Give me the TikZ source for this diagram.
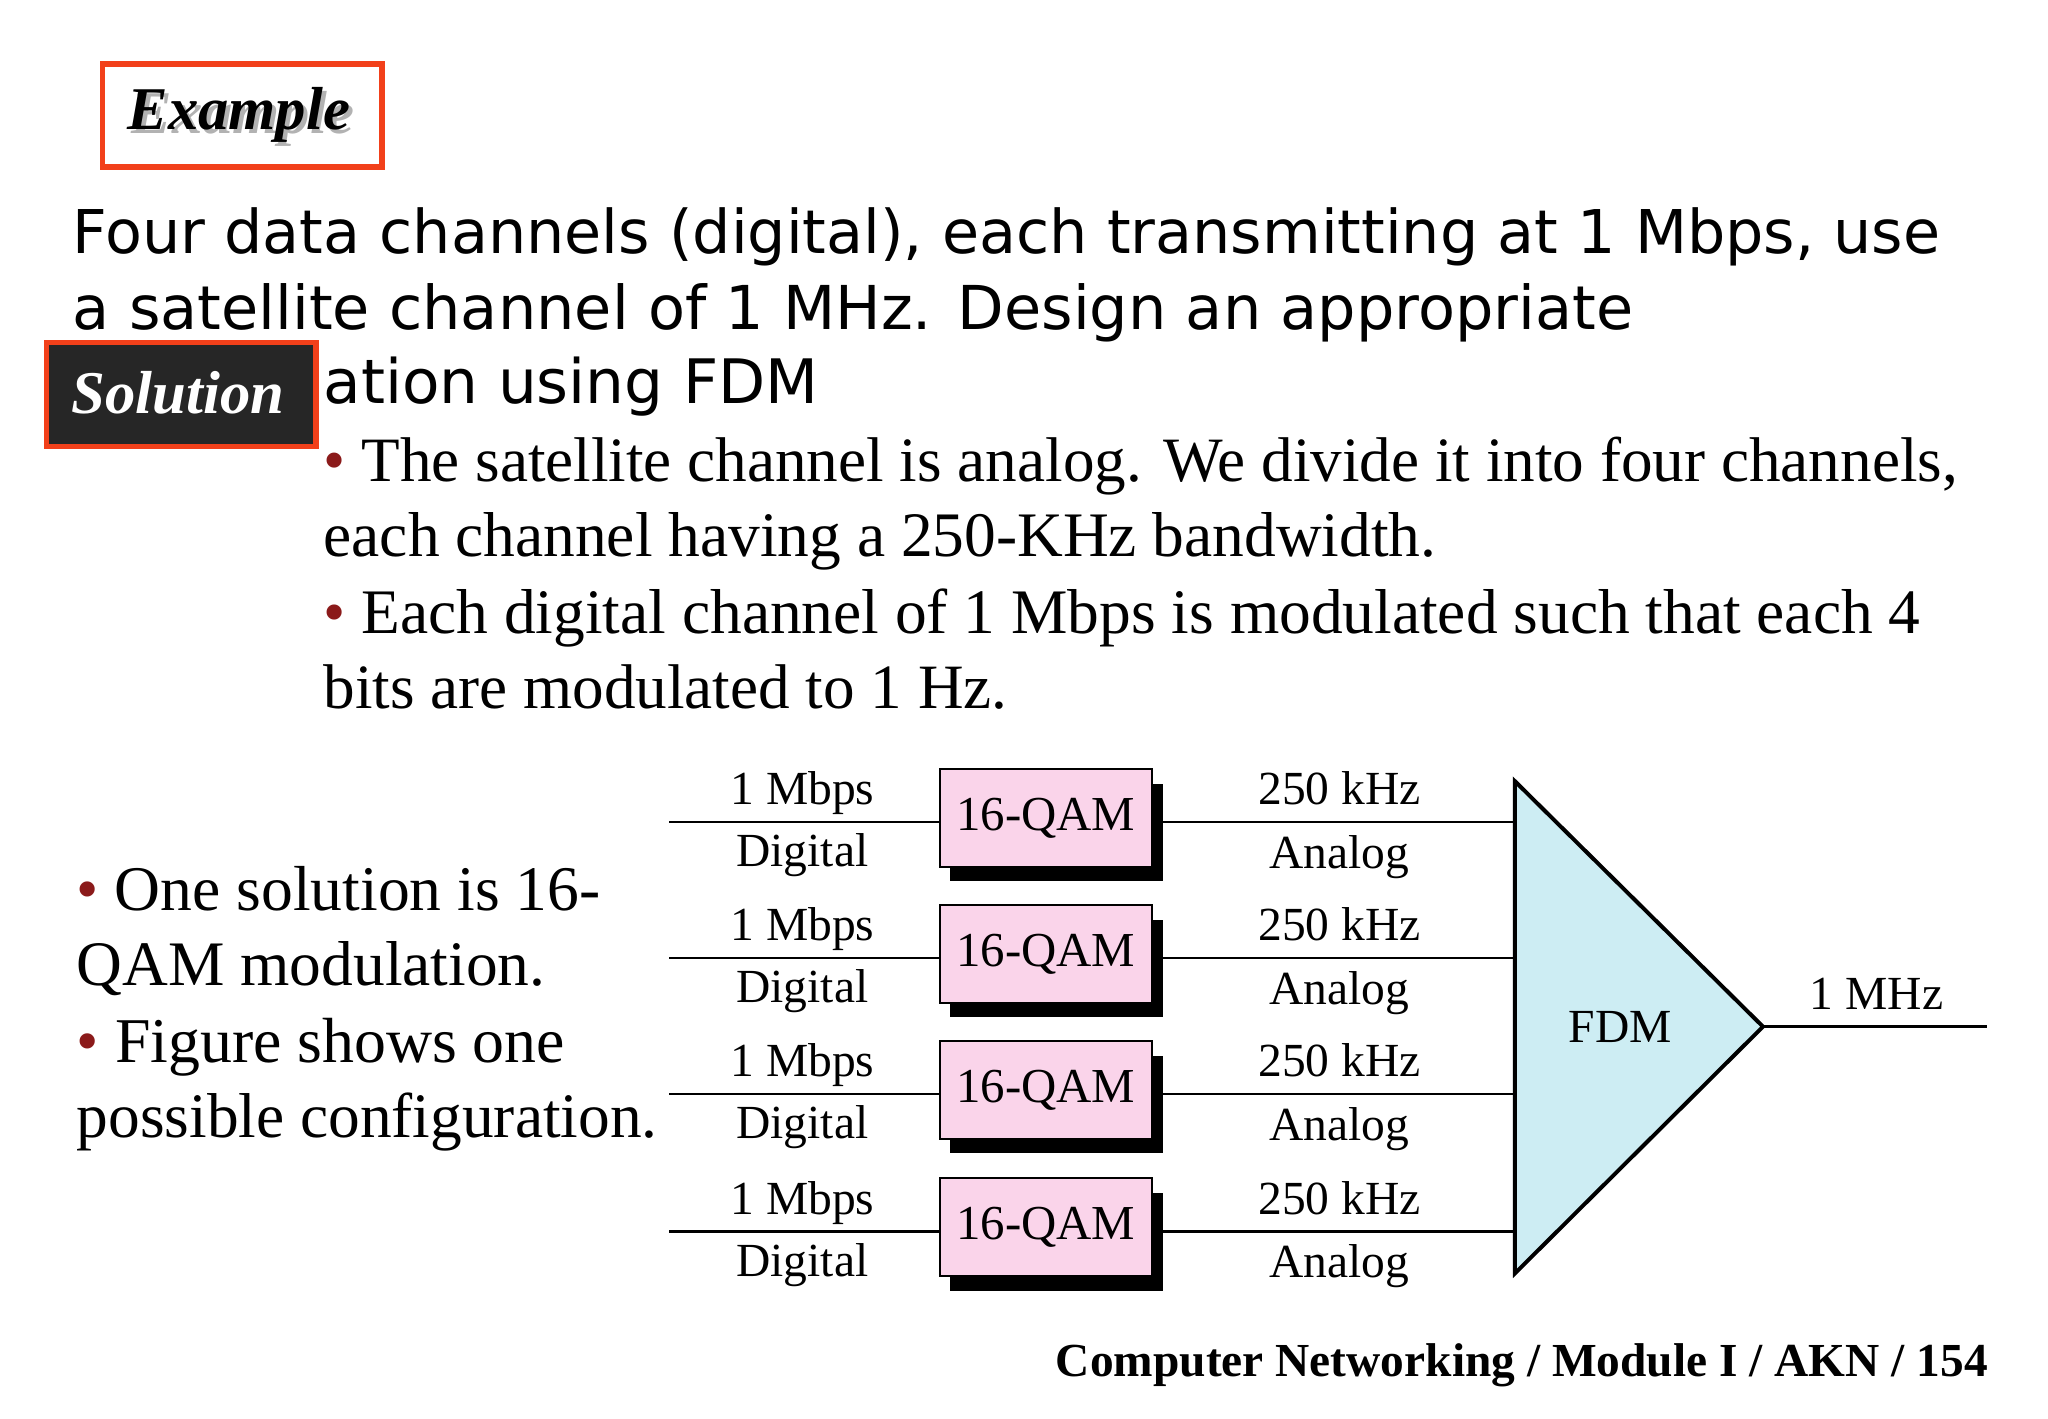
\documentclass[tikz,border=0pt]{standalone}
\usepackage{fontspec}
\usepackage{graphicx}
\setmainfont{Liberation Serif}
\newfontfamily\topsans{DejaVu Sans}
\definecolor{exred}{HTML}{F2401A}
\definecolor{bulred}{HTML}{8B1A1A}
\definecolor{qampink}{HTML}{FAD4EA}
\definecolor{fdmblue}{HTML}{CDEDF3}
\newcommand{\fitw}[2]{\resizebox{#1pt}{!}{#2}}
\newcommand{\bul}{{\color{bulred}\textbullet}\ }
\begin{document}
\begin{tikzpicture}[x=1pt,y=-1pt,
  lbl/.style={font=\fontsize{36}{40}\selectfont,inner sep=0pt,anchor=base},
  qam/.style={draw=black,line width=1.5pt,fill=qampink,minimum width=161pt,minimum height=74pt,font=\fontsize{37}{40}\selectfont,inner sep=0pt},
  wire/.style={line width=2pt},
  txt/.style={anchor=base west,inner sep=0pt}]
\useasboundingbox[fill=white] (0,0) rectangle (1552,1075);
% Example / Solution
\node[draw=exred,line width=4pt,minimum width=212pt,minimum height=78pt,inner sep=0pt] (ex) at (183.5,87.5) {};
\node[font=\fontsize{46}{50}\selectfont\bfseries\itshape,text=gray!60] at (184,90) {Example};
\node[font=\fontsize{46}{50}\selectfont\bfseries\itshape] at (181,87) {Example};
% main text
\node[txt] (t1) at (55,192) {\fitw{1415}{\topsans\addfontfeature{} Four data channels (digital), each transmitting at 1 Mbps, use}};
\node[txt] (t2) at (55,250) {\fitw{1182}{\topsans a satellite channel of 1 MHz. Design an appropriate}};
\node[txt] (t3) at (245,306) {\fitw{375}{\topsans ation using FDM}};
\node[draw=exred,fill=black!85,line width=4pt,minimum width=204pt,minimum height=79pt,inner sep=0pt] (sol) at (137.5,299) {};
\node[font=\fontsize{46}{50}\selectfont\bfseries\itshape,text=white] at (135,298) {Solution};
\node[txt] (b1) at (245,365) {\fitw{1238}{\bul The satellite channel is analog. We divide it into four channels,}};
\node[txt] (b2) at (245,422) {\fitw{843}{each channel having a 250-KHz bandwidth.}};
\node[txt] (b3) at (245,480) {\fitw{1210}{\bul Each digital channel of 1 Mbps is modulated such that each 4}};
\node[txt] (b4) at (245,537) {\fitw{518}{bits are modulated to 1 Hz.}};
\node[txt] (l1) at (58,690) {\fitw{397}{\bul One solution is 16-}};
\node[txt] (l2) at (58,747) {\fitw{355}{QAM modulation.}};
\node[txt] (l3) at (58,805) {\fitw{370}{\bul Figure shows one}};
\node[txt] (l4) at (58,862) {\fitw{440}{possible configuration.}};
\node[txt] (ft) at (800,1043) {\fitw{706}{\bfseries Computer Networking / Module I / AKN / 154}};
% FDM triangle
\coordinate (ta) at (1148,592);
\coordinate (tb) at (1148,965);
\coordinate (tc) at (1336,778);
\draw[line width=3pt,fill=fdmblue,line join=miter] (ta) -- (tc) -- (tb) -- cycle;
\node[font=\fontsize{36}{40}\selectfont] (fdm) at (1228,778) {FDM};
\coordinate (out) at (1506,778);
\draw[wire] (tc) -- (out);
\node[lbl] (mhz) at (1422,765) {1 MHz};
% channels
\foreach \y/\n in {623/a,726/b,829/c,933/d}{
  \coordinate (in\n) at (507,\y);
  \coordinate (fd\n) at (1148,\y);
  \fill[black] (720,\y-29) rectangle (881,\y+45);
  \node[qam] (q\n) at (792.5,\y-3) {16-QAM};
  \draw[wire] (in\n) -- (q\n.west |- in\n);
  \draw[wire] (q\n.east |- in\n) -- (fd\n);
  \node[lbl] at (608,\y-13) {1 Mbps};
  \node[lbl] at (608,\y+34) {Digital};
  \node[lbl] at (1015,\y-13) {250 kHz};
  \node[lbl] at (1015,\y+35) {Analog};
}
\end{tikzpicture}
\end{document}
